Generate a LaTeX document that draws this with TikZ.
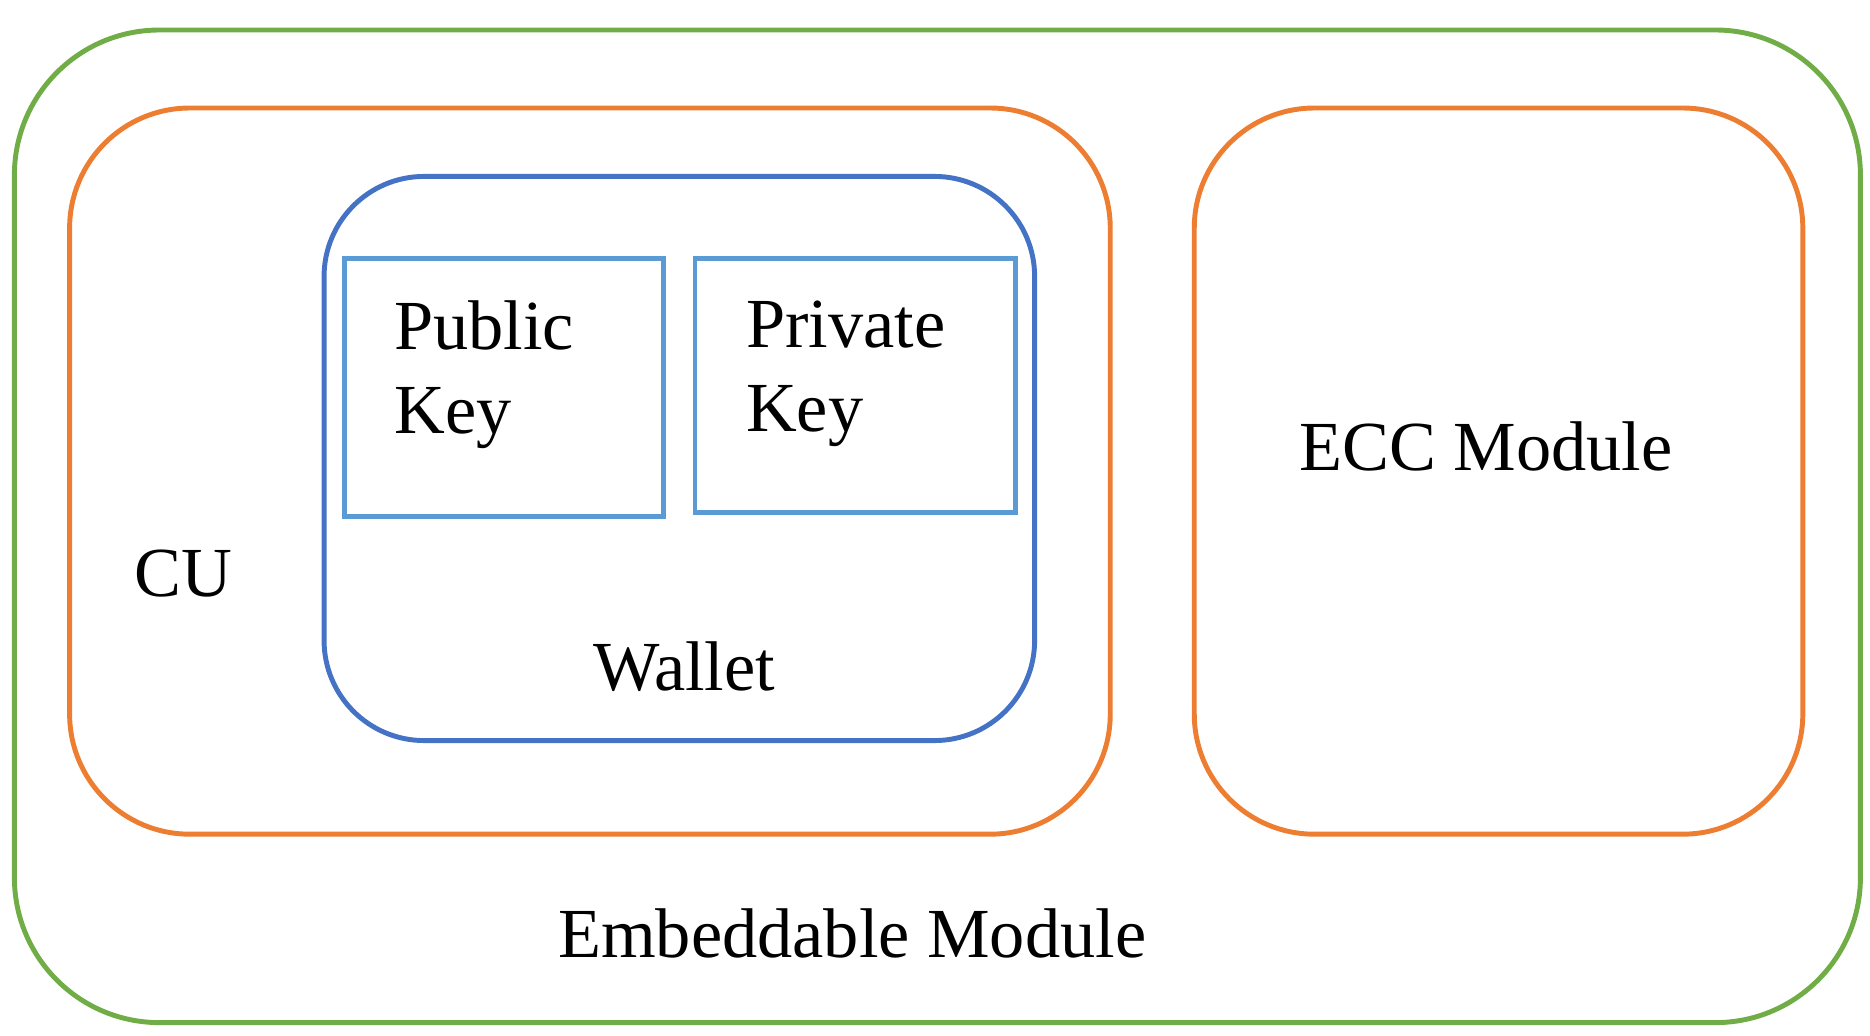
\documentclass[tikz,border=0pt]{standalone}
\usepackage{fontspec}
\setmainfont{Liberation Serif}
\begin{document}
\begin{tikzpicture}[x=0.012cm,y=-0.012cm,
  lbl/.style={font=\fontsize{20}{24}\selectfont,inner sep=0pt,align=left},
  ln/.style={line width=1.4pt}]
\definecolor{grn}{HTML}{70AD47}\definecolor{org}{HTML}{ED7D31}
\definecolor{blu}{HTML}{4472C4}\definecolor{lblu}{HTML}{5B9BD5}
\useasboundingbox (0,0) rectangle (1558,863);
\draw[ln,grn,rounded corners=1.45cm] (12,25) rectangle (1550,852);
\draw[ln,org,rounded corners=1.2cm] (58,90) rectangle (925,695);
\draw[ln,org,rounded corners=1.2cm] (995,90) rectangle (1502,695);
\draw[ln,blu,rounded corners=1.0cm] (270,147) rectangle (862,617);
\draw[ln,lblu] (287,215) rectangle (553,430);
\draw[ln,lblu] (579,215) rectangle (846,427);
\node[lbl,anchor=north west] (pub) at (328,250) {Public\\Key};
\node[lbl,anchor=north west] (priv) at (621,250) {Private\\Key};
\node[lbl] (cu) at (153,478) {CU};
\node[lbl] (wal) at (570,555) {Wallet};
\node[lbl] (ecc) at (1238,372) {ECC Module};
\node[lbl] (emb) at (710,778) {Embeddable Module};
\end{tikzpicture}
\end{document}
